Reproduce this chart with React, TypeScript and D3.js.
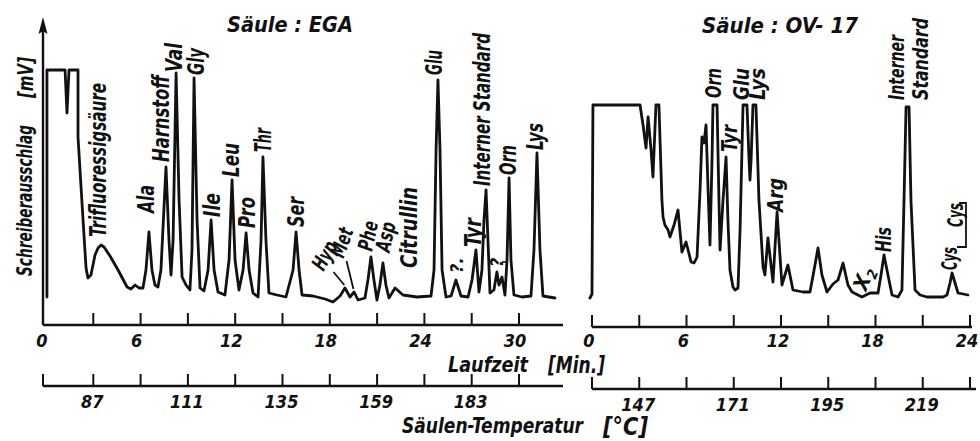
import React from "react";
import * as d3 from "d3";

// ---------- Data: column EGA (left chromatogram) ----------
const egaTime = [0.06, 0.06, 1.21, 1.33, 1.46, 2.03, 2.03, 2.35, 2.54, 2.66, 2.85, 3.11, 3.3, 3.49, 3.68, 4.06, 4.57, 5.14, 5.39, 5.65, 5.9, 6.15, 6.34, 6.53, 6.72, 6.91, 7.1, 7.29, 7.61, 7.8, 7.93, 8.06, 8.25, 8.44, 8.63, 8.88, 9.13, 9.26, 9.39, 9.58, 9.77, 10.02, 10.28, 10.47, 10.66, 10.91, 11.35, 11.61, 11.8, 11.99, 12.24, 12.5, 12.69, 12.88, 13.13, 13.45, 13.64, 13.76, 13.95, 14.14, 14.65, 15.22, 15.67, 15.86, 16.05, 16.24, 16.93, 17.7, 18.2, 18.65, 18.96, 19.28, 19.54, 19.79, 20.23, 20.42, 20.61, 20.8, 20.99, 21.18, 21.37, 21.56, 21.75, 22.14, 22.64, 23.53, 24.42, 24.61, 24.74, 24.86, 24.99, 25.12, 25.37, 25.69, 26.0, 26.32, 26.77, 27.02, 27.27, 27.46, 27.65, 27.78, 27.91, 28.03, 28.16, 28.41, 28.6, 28.73, 28.92, 29.11, 29.24, 29.37, 29.49, 29.68, 30.19, 30.76, 30.95, 31.14, 31.33, 31.52, 32.28];
const egaSignal = [28, 255, 255, 212, 255, 255, 188, 105, 57, 47, 50, 70, 77, 80, 78, 69, 55, 38, 36, 40, 37, 37, 55, 93, 55, 40, 38, 55, 158, 85, 50, 85, 252, 125, 48, 40, 35, 75, 247, 105, 37, 34, 55, 105, 55, 33, 30, 65, 145, 65, 35, 55, 92, 55, 32, 28, 85, 168, 85, 32, 30, 28, 55, 93, 55, 30, 29, 26, 23, 29, 37, 28, 33, 25, 27, 45, 68, 45, 25, 40, 62, 40, 27, 37, 30, 28, 29, 55, 175, 245, 175, 55, 28, 29, 45, 29, 28, 45, 75, 33, 55, 105, 135, 85, 32, 35, 53, 40, 48, 30, 65, 147, 65, 30, 28, 29, 75, 172, 75, 29, 27];

// ---------- Data: column OV-17 (right chromatogram) ----------
const ovTime = [-0.13, 0.0, 0.06, 3.05, 3.24, 3.43, 3.56, 3.75, 3.87, 4.06, 4.25, 4.44, 4.51, 4.63, 4.83, 4.95, 5.21, 5.46, 5.71, 5.97, 6.1, 6.29, 6.48, 6.67, 6.86, 6.98, 7.11, 7.24, 7.37, 7.49, 7.62, 7.68, 7.94, 8.06, 8.13, 8.32, 8.51, 8.63, 8.76, 8.95, 9.08, 9.27, 9.4, 9.59, 9.84, 9.97, 10.03, 10.1, 10.22, 10.41, 10.6, 10.86, 10.98, 11.17, 11.49, 11.75, 12.06, 12.44, 12.76, 13.4, 13.84, 14.1, 14.35, 14.6, 14.92, 15.3, 15.62, 15.94, 16.25, 16.51, 17.14, 17.65, 18.16, 18.35, 18.54, 18.79, 19.05, 19.43, 19.68, 19.81, 19.94, 20.13, 20.25, 20.51, 20.83, 21.27, 22.29, 22.54, 22.73, 22.86, 23.05, 23.24, 23.87];
const ovSignal = [29, 33, 222, 222, 202, 179, 210, 177, 150, 222, 222, 127, 110, 102, 97, 90, 102, 117, 75, 85, 77, 65, 64, 70, 137, 190, 184, 202, 137, 82, 167, 222, 222, 127, 77, 127, 170, 107, 57, 40, 37, 39, 97, 222, 222, 167, 147, 167, 222, 222, 127, 60, 52, 89, 45, 115, 42, 62, 37, 35, 35, 57, 79, 52, 35, 43, 47, 64, 42, 35, 30, 34, 34, 52, 72, 52, 32, 30, 37, 127, 220, 220, 127, 37, 32, 30, 30, 32, 44, 54, 44, 34, 32];

// ---------- Axis ticks ----------
const egaTimeTicks = [3, 6, 9, 12, 15, 18, 21, 24, 27, 30];
const egaTimeLabels = [0, 6, 12, 18, 24, 30];
const egaTempTicks = [75, 87, 99, 111, 123, 135, 147, 159, 171, 183, 195];
const egaTempLabels = [87, 111, 135, 159, 183];
const ovTimeTicks = [0, 3, 6, 9, 12, 15, 18, 21, 24];
const ovTimeLabels = [0, 6, 12, 18, 24];
const ovTempTicks = [135, 147, 159, 171, 183, 195, 207, 219, 231];
const ovTempLabels = [147, 171, 195, 219];

// ---------- Peak annotations ----------
const egaPeakNames = ["Trifluoressigsäure", "Ala", "Harnstoff", "Val", "Gly", "Ile", "Leu", "Pro", "Thr", "Ser", "Citrullin", "Glu", "?.", "Tyr", "Interner Standard", "?", "Orn", "Lys"];
const egaPeakTimes = [3.3, 6.4, 7.29, 8.12, 9.51, 10.53, 11.73, 12.75, 13.76, 15.86, 23.02, 24.61, 26.06, 27.08, 27.71, 28.6, 29.36, 31.07];
const egaLabelSignal = [88, 112, 163, 253, 250, 108, 148, 97, 173, 98, 57, 250, 52, 78, 139, 58, 150, 175];
const egaLabelLen = [154, 28, 87, 29, 27, 24, 34, 31, 24, 30, 81, 25, 0, 29, 153, 0, 30, 27];

const egaSlantNames = ["Hyp", "Met", "Phe", "Asp"];
const egaSlantTimes = [17.6, 18.87, 20.68, 21.79];
const egaSlantSignal = [53, 66, 73, 72];
const egaSlantAngle = [-60, -70, -78, -78];

const ovPeakNames = ["Orn", "Tyr", "Glu", "Lys", "Arg", "His", "Interner", "Standard", "Cys", "Cys"];
const ovPeakTimes = [7.75, 8.76, 9.52, 10.54, 11.68, 18.54, 19.4, 20.92, 22.73, 23.11];
const ovLabelSignal = [229, 175, 227, 227, 115, 75, 227, 227, 57, 100];
const ovLabelLen = [30, 27, 32, 32, 34, 25, 65, 82, 23, 24];

const FONT = "'Liberation Sans Narrow','DejaVu Sans Condensed','DejaVu Sans','Liberation Sans',sans-serif";
const INK = "#111";

const egaX = d3.scaleLinear().domain([0, 30]).range([46, 519]);
const ovX = d3.scaleLinear().domain([0, 24]).range([592, 970]);
const yS = d3.scaleLinear().domain([0, 300]).range([325, 25]);
const egaTemp = d3.scaleLinear().domain([75, 195]).range([egaX(0), egaX(30)]);
const ovTemp = d3.scaleLinear().domain([135, 231]).range([ovX(0), ovX(24)]);

function trace(times: number[], sig: number[], x: d3.ScaleLinear<number, number>) {
  const line = d3
    .line<number>()
    .x((_, i) => x(times[i]))
    .y((d) => yS(d))
    .curve(d3.curveLinear);
  return line(sig) || "";
}

const textStyle: React.CSSProperties = { fontFamily: FONT, fontStyle: "italic", fontWeight: 700 };

function VLabel({ x, y, text, len, fs }: { x: number; y: number; text: string; len: number; fs: number }) {
  const bx = x + fs * 0.33;
  return (
    <text
      transform={`translate(${bx},${y}) rotate(-90)`}
      fontSize={fs}
      fill={INK}
      style={textStyle}
      {...(len > 0 ? { textLength: len, lengthAdjust: "spacingAndGlyphs" } : {})}
    >
      {text}
    </text>
  );
}

export default function App() {
  const yBase = yS(0);
  const tempY = 386;
  return (
    <svg width={980} height={441} viewBox="0 0 980 441" style={{ display: "block", position: "absolute", left: 0, top: 0, background: "#fff" }}>
      <rect x={0} y={0} width={980} height={441} fill="#fff" />
      {/* ---------- Titles ---------- */}
      <text x={227} y={32} fontSize={21} fill={INK} style={textStyle} textLength={126} lengthAdjust="spacingAndGlyphs">
        Säule :  EGA
      </text>
      <text x={702} y={33} fontSize={21} fill={INK} style={textStyle} textLength={156} lengthAdjust="spacingAndGlyphs">
        Säule :  OV- 17
      </text>

      {/* ---------- Y axis (left) ---------- */}
      <line x1={43} y1={yBase} x2={43} y2={24} stroke={INK} strokeWidth={2.4} />
      <path d="M43,17 L38.5,34 L43,31 L47.5,34 Z" fill={INK} />
      <text transform={`translate(32,276) rotate(-90)`} fontSize={21} fill={INK} style={textStyle} textLength={151} lengthAdjust="spacingAndGlyphs">
        Schreiberausschlag
      </text>
      <text transform={`translate(33,98) rotate(-90)`} fontSize={22} fill={INK} style={textStyle} textLength={41} lengthAdjust="spacingAndGlyphs">
        [mV]
      </text>

      {/* ---------- Left panel: time axis ---------- */}
      <line x1={43} y1={yBase} x2={563} y2={yBase} stroke={INK} strokeWidth={2.4} />
      {egaTimeTicks.map((t) => (
        <line key={"et" + t} x1={egaX(t)} x2={egaX(t)} y1={yBase} y2={yBase - 12} stroke={INK} strokeWidth={2} />
      ))}
      {egaTimeLabels.map((t) => (
        <text key={"el" + t} x={egaX(t) - 4} y={347} fontSize={18} textAnchor="middle" fill={INK} style={textStyle}>
          {t}
        </text>
      ))}
      {/* Left panel: temperature axis */}
      <line x1={43} y1={tempY} x2={563} y2={tempY} stroke={INK} strokeWidth={2.4} />
      <line x1={43} x2={43} y1={tempY} y2={tempY - 12} stroke={INK} strokeWidth={2} />
      {egaTempTicks.slice(1).map((c) => (
        <line key={"ec" + c} x1={egaTemp(c)} x2={egaTemp(c)} y1={tempY} y2={tempY - 12} stroke={INK} strokeWidth={2} />
      ))}
      {egaTempLabels.map((c) => (
        <text key={"ecl" + c} x={egaTemp(c) - 1} y={408} fontSize={18} textAnchor="middle" fill={INK} style={textStyle}>
          {c}
        </text>
      ))}

      {/* Left trace */}
      <path d={trace(egaTime, egaSignal, egaX)} fill="none" stroke={INK} strokeWidth={2.8} strokeLinejoin="round" strokeLinecap="round" />

      {/* Left labels */}
      {egaPeakNames.map((n, i) => (
        <VLabel key={"ep" + i} x={egaX(egaPeakTimes[i])} y={yS(egaLabelSignal[i])} text={n} len={egaLabelLen[i]} fs={n.length > 2 ? 23 : 18} />
      ))}
      {egaSlantNames.map((n, i) => (
        <text
          key={"es" + i}
          transform={`translate(${egaX(egaSlantTimes[i])},${yS(egaSlantSignal[i])}) rotate(${egaSlantAngle[i]})`}
          fontSize={21}
          fill={INK}
          style={textStyle}
          textLength={30}
          lengthAdjust="spacingAndGlyphs"
        >
          {n}
        </text>
      ))}
      {/* leader lines for Hyp and Met */}
      <line x1={egaX(egaSlantTimes[0]) + 10} y1={yS(egaSlantSignal[0])} x2={egaX(18.92)} y2={yS(40)} stroke={INK} strokeWidth={1.8} />
      <line x1={egaX(egaSlantTimes[1]) + 3} y1={yS(egaSlantSignal[1]) + 2} x2={egaX(19.5)} y2={yS(36)} stroke={INK} strokeWidth={1.8} />
      <line x1={egaX(28.6) + 5} y1={yS(63)} x2={egaX(28.6) + 10} y2={yS(63)} stroke={INK} strokeWidth={1.6} />

      {/* ---------- Right panel ---------- */}
      <g transform="translate(0,2)">
        <line x1={ovX(0)} y1={yBase} x2={972} y2={yBase} stroke={INK} strokeWidth={2.4} />
        {ovTimeTicks.map((t) => (
          <line key={"ot" + t} x1={ovX(t)} x2={ovX(t)} y1={yBase} y2={yBase - 12} stroke={INK} strokeWidth={2} />
        ))}
        {ovTimeLabels.map((t) => (
          <text key={"ol" + t} x={ovX(t) - 3} y={345} fontSize={18} textAnchor="middle" fill={INK} style={textStyle}>
            {t}
          </text>
        ))}
        <line x1={ovX(0)} y1={tempY + 1} x2={976} y2={tempY + 1} stroke={INK} strokeWidth={2.4} />
        {ovTempTicks.map((c) => (
          <line key={"oc" + c} x1={ovTemp(c)} x2={ovTemp(c)} y1={tempY + 1} y2={tempY - 11} stroke={INK} strokeWidth={2} />
        ))}
        {ovTempLabels.map((c) => (
          <text key={"ocl" + c} x={ovTemp(c) - 1} y={409} fontSize={18} textAnchor="middle" fill={INK} style={textStyle}>
            {c}
          </text>
        ))}

        <path d={trace(ovTime, ovSignal, ovX)} fill="none" stroke={INK} strokeWidth={2.8} strokeLinejoin="round" strokeLinecap="round" />

        {ovPeakNames.map((n, i) => (
          <VLabel key={"op" + i} x={ovX(ovPeakTimes[i])} y={yS(ovLabelSignal[i])} text={n} len={ovLabelLen[i]} fs={21} />
        ))}
        {/* X2 */}
        <text transform={`translate(${ovX(17.4)},${yS(35)}) rotate(-68)`} fontSize={21} fill={INK} style={textStyle}>
          X<tspan fontSize={14} dy={4}>2</tspan>
        </text>
        {/* bracket of Cys-Cys */}
        <path
          d={`M${ovX(23.11) + 3},${yS(124)} H${ovX(23.11) + 10} V${yS(80)} H${ovX(23.11) + 1}`}
          fill="none"
          stroke={INK}
          strokeWidth={1.8}
        />
      </g>

      {/* ---------- Axis titles ---------- */}
      <text x={448} y={372} fontSize={21} fill={INK} style={textStyle} textLength={80} lengthAdjust="spacingAndGlyphs">
        Laufzeit
      </text>
      <text x={548} y={373} fontSize={23} fill={INK} style={textStyle} textLength={57} lengthAdjust="spacingAndGlyphs">
        [Min.]
      </text>
      <text x={402} y={433} fontSize={21} fill={INK} style={textStyle} textLength={181} lengthAdjust="spacingAndGlyphs">
        Säulen-Temperatur
      </text>
      <text x={603} y={435} fontSize={24} fill={INK} style={textStyle} textLength={45} lengthAdjust="spacingAndGlyphs">
        [°C]
      </text>
    </svg>
  );
}
